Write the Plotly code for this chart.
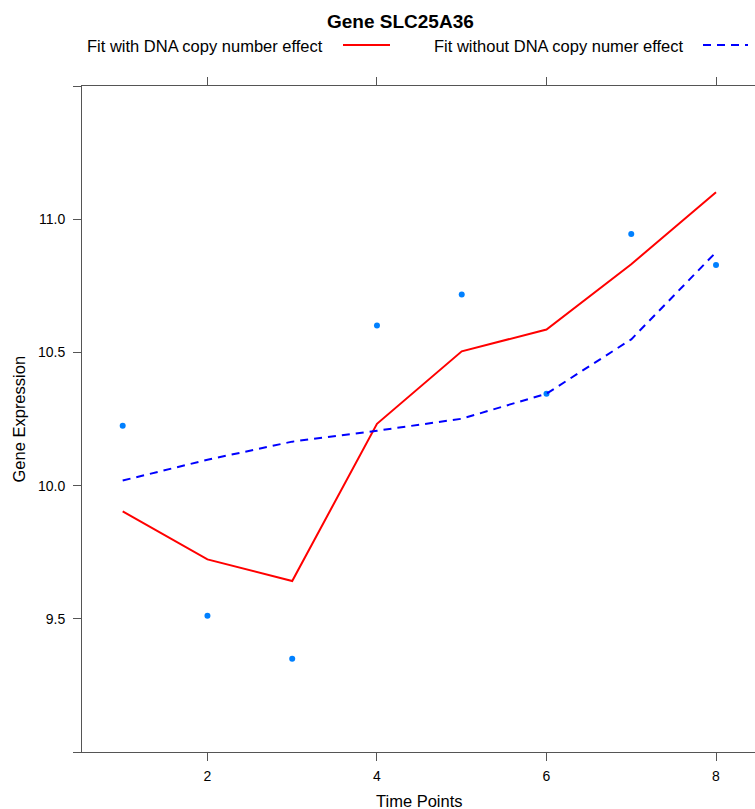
import plotly.graph_objects as go

# Time points and observed expression for gene SLC25A36
time_points = [1, 2, 3, 4, 5, 6, 7, 8]
observed = [10.225, 9.511, 9.350, 10.601, 10.717, 10.345, 10.944, 10.828]

# Fitted curves
fit_with_cn = [9.903, 9.723, 9.642, 10.232, 10.504, 10.586, 10.831, 11.101]
fit_without_cn = [10.019, 10.097, 10.165, 10.206, 10.251, 10.345, 10.549, 10.876]

x_ticks = [2, 4, 6, 8]
y_ticks = [9.0, 9.5, 10.0, 10.5, 11.0, 11.5]
y_tick_text = ["", "9.5", "10.0", "10.5", "11.0", ""]

legend_labels = ["Fit with DNA copy number effect", "Fit without DNA copy numer effect"]

W, H = 755, 809
L, R, T, B = 82, 0, 86, 57
FONT = "Liberation Sans, Arial, Helvetica, sans-serif"
AXIS_COL = "#555555"


def px(x):
    return (x - L) / (W - L - R)


def py(y):
    return (H - B - y) / (H - T - B)


fig = go.Figure()
fig.add_trace(go.Scatter(x=time_points, y=observed, mode="markers",
                         marker=dict(color="#0080ff", size=6), showlegend=False))
fig.add_trace(go.Scatter(x=time_points, y=fit_with_cn, mode="lines",
                         line=dict(color="#ff0000", width=2), showlegend=False))
fig.add_trace(go.Scatter(x=time_points, y=fit_without_cn, mode="lines",
                         line=dict(color="#0000ff", width=2, dash="8px,6px"), showlegend=False))

annotations = [
    dict(text="<b>Gene SLC25A36</b>", x=px(400), y=py(21), xref="paper", yref="paper",
         showarrow=False, font=dict(size=19, family=FONT, color="black"),
         xanchor="center", yanchor="middle"),
    dict(text=legend_labels[0], x=px(325), y=py(46), xref="paper", yref="paper",
         showarrow=False, font=dict(size=16.5, family=FONT, color="black"),
         xanchor="right", yanchor="middle"),
    dict(text=legend_labels[1], x=px(686), y=py(46), xref="paper", yref="paper",
         showarrow=False, font=dict(size=16.5, family=FONT, color="black"),
         xanchor="right", yanchor="middle"),
    dict(text="Gene Expression", x=px(18.5), y=py(419), xref="paper", yref="paper",
         showarrow=False, textangle=-90, font=dict(size=16.5, family=FONT, color="black"),
         xanchor="center", yanchor="middle"),
    dict(text="Time Points", x=px(419), y=py(801), xref="paper", yref="paper",
         showarrow=False, font=dict(size=16.5, family=FONT, color="black"),
         xanchor="center", yanchor="middle"),
]

shapes = [
    dict(type="line", xref="paper", yref="paper", x0=px(343), x1=px(390), y0=py(45), y1=py(45),
         line=dict(color="#ff0000", width=2)),
    dict(type="line", xref="paper", yref="paper", x0=px(703), x1=px(748), y0=py(45), y1=py(45),
         line=dict(color="#0000ff", width=2, dash="8px,6px")),
]

fig.update_layout(
    width=W, height=H,
    margin=dict(l=L, r=R, t=T, b=B),
    paper_bgcolor="white", plot_bgcolor="white",
    annotations=annotations, shapes=shapes,
    font=dict(family=FONT, size=14, color="black"),
    xaxis=dict(range=[0.52, 8.46], tickvals=x_ticks, ticks="outside", ticklen=8,
               tickcolor=AXIS_COL, showline=True, linecolor=AXIS_COL, linewidth=1,
               mirror="ticks", showgrid=False, zeroline=False, ticklabelstandoff=3,
               tickfont=dict(size=14, family=FONT)),
    yaxis=dict(range=[9.0, 11.5], tickvals=y_ticks, ticktext=y_tick_text, ticks="outside",
               ticklen=8, tickcolor=AXIS_COL, showline=True, linecolor=AXIS_COL, linewidth=1,
               mirror=False, showgrid=False, zeroline=False, ticklabelstandoff=5,
               tickfont=dict(size=14, family=FONT)),
)

fig.write_html("out.html")
